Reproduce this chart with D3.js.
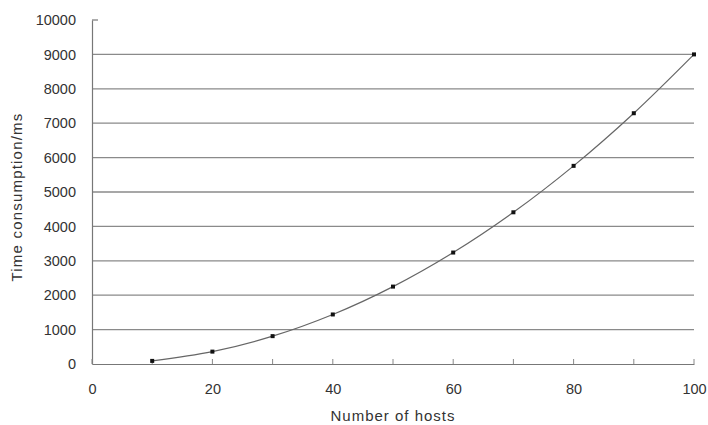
<!DOCTYPE html>
<html>
<head>
<meta charset="utf-8">
<script src="https://cdn.jsdelivr.net/npm/d3@7/dist/d3.min.js"></script>
<style>
  html, body { margin: 0; padding: 0; background: #fff; }
  svg { display: block; }
  text { font-family: "Liberation Sans", Arial, sans-serif; fill: #333; }
</style>
</head>
<body>
<svg id="chart" width="708" height="425"></svg>
<script>
const hosts = [10, 20, 30, 40, 50, 60, 70, 80, 90, 100];
const timeMs = [90, 360, 810, 1440, 2250, 3240, 4410, 5760, 7290, 9000];
const xTickLabels = [0, 20, 40, 60, 80, 100];
const xMinorTicks = [0, 10, 20, 30, 40, 50, 60, 70, 80, 90, 100];
const yTickLabels = [0, 1000, 2000, 3000, 4000, 5000, 6000, 7000, 8000, 9000, 10000];
const gridValues = [1000, 2000, 3000, 4000, 5000, 6000, 7000, 8000, 9000];
const xTitle = "Number of hosts";
const yTitle = "Time consumption/ms";

(function () {
const svg = d3.select("#chart");
const mLeft = 92, mRight = 694, mTop = 20, mBottom = 364;
const x = d3.scaleLinear().domain([0, 100]).range([mLeft, mRight]);
const y = d3.scaleLinear().domain([0, 10000]).range([mBottom, mTop]);

// gridlines
svg.append("g").selectAll("line").data(gridValues).join("line")
  .attr("x1", mLeft).attr("x2", mRight)
  .attr("y1", d => y(d)).attr("y2", d => y(d))
  .attr("stroke", "#8a8a8a").attr("stroke-width", 1.3);

// y axis
const yAxis = d3.axisLeft(y).tickValues(yTickLabels).tickSize(0).tickPadding(16)
  .tickFormat(d3.format("d"));
const gy = svg.append("g").attr("transform", `translate(${mLeft},0)`).call(yAxis);
gy.select(".domain").attr("stroke", "#777").attr("stroke-width", 1.2);
gy.selectAll("text").style("font-size", "14.5px").style("fill", "#333")
  .attr("font-family", "Liberation Sans, Arial, sans-serif");
// top tick inside
svg.append("line").attr("x1", mLeft).attr("x2", mLeft + 6)
  .attr("y1", y(10000)).attr("y2", y(10000))
  .attr("stroke", "#777").attr("stroke-width", 1.2);

// x axis
const xAxis = d3.axisBottom(x).tickValues(xTickLabels).tickSize(0).tickPadding(20)
  .tickFormat(d3.format("d"));
const gx = svg.append("g").attr("transform", `translate(0,${mBottom})`).call(xAxis);
gx.select(".domain").attr("stroke", "#777").attr("stroke-width", 1.2);
gx.selectAll("text").style("font-size", "14.5px").style("fill", "#333")
  .attr("font-family", "Liberation Sans, Arial, sans-serif");
// inner ticks
svg.append("g").selectAll("line").data(xMinorTicks).join("line")
  .attr("x1", d => x(d)).attr("x2", d => x(d))
  .attr("y1", mBottom - 5).attr("y2", mBottom)
  .attr("stroke", "#888").attr("stroke-width", 1);

// titles
svg.append("text")
  .attr("x", (mLeft + mRight) / 2).attr("y", 421)
  .attr("text-anchor", "middle")
  .style("font-size", "15px").style("letter-spacing", "1px")
  .text(xTitle);
svg.append("text")
  .attr("transform", `translate(22,197) rotate(-90)`)
  .attr("text-anchor", "middle")
  .style("font-size", "15px").style("letter-spacing", "1.2px")
  .text(yTitle);

// smooth line
const pts = hosts.map((h, i) => [h, timeMs[i]]);
const line = d3.line().x(d => x(d[0])).y(d => y(d[1])).curve(d3.curveCatmullRom.alpha(0.5));
svg.append("path").datum(pts).attr("d", line)
  .attr("fill", "none").attr("stroke", "#666").attr("stroke-width", 1.2);

// markers
svg.append("g").selectAll("rect").data(pts).join("rect")
  .attr("x", d => x(d[0]) - 2).attr("y", d => y(d[1]) - 2)
  .attr("width", 4).attr("height", 4)
  .attr("fill", "#111");
})();
</script>
</body>
</html>
